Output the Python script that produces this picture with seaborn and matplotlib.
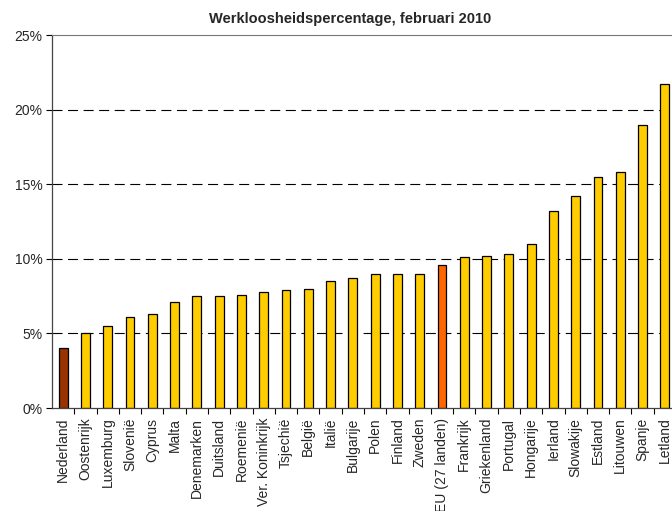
import numpy as np
import pandas as pd
import matplotlib
matplotlib.use("Agg")
import matplotlib.pyplot as plt
import seaborn as sns
from matplotlib.ticker import FixedLocator, PercentFormatter

# data (unemployment %, Feb 2010)
landen = ["Nederland", "Oostenrijk", "Luxemburg", "Slovenië", "Cyprus", "Malta",
          "Denemarken", "Duitsland", "Roemenië", "Ver. Koninkrijk", "Tsjechië",
          "België", "Italië", "Bulgarije", "Polen", "Finland", "Zweden",
          "EU (27 landen)", "Frankrijk", "Griekenland", "Portugal", "Hongarije",
          "Ierland", "Slowakije", "Estland", "Litouwen", "Spanje", "Letland"]
werkloosheid = [4.0, 5.0, 5.5, 6.1, 6.3, 7.1, 7.5, 7.5, 7.6, 7.8, 7.9, 8.0, 8.5,
                8.7, 9.0, 9.0, 9.0, 9.6, 10.1, 10.2, 10.3, 11.0, 13.2, 14.2,
                15.5, 15.8, 19.0, 21.7]
y_ticks = [0, 5, 10, 15, 20, 25]

geel = "#FFCC00"
kleuren = [geel] * len(landen)
kleuren[landen.index("Nederland")] = "#993300"
kleuren[landen.index("EU (27 landen)")] = "#FF6600"

df = pd.DataFrame({"land": landen, "pct": werkloosheid})

sns.set_style("white")
plt.rcParams["font.family"] = ["Liberation Sans", "DejaVu Sans"]

fig = plt.figure(figsize=(6.72, 5.11), dpi=100)
ax = fig.add_axes([52 / 672, 1 - 408 / 511, 624 / 672, 373 / 511])

sns.barplot(data=df, x="land", y="pct", hue="land", palette=kleuren,
            legend=False, width=0.4, edgecolor="black", linewidth=0.9,
            saturation=1, ax=ax)

ax.set_ylim(0, 25)
ax.set_xlim(-0.5, len(landen) - 0.5)
ax.yaxis.set_major_locator(FixedLocator(y_ticks))
ax.yaxis.set_major_formatter(PercentFormatter(decimals=0))
for v in y_ticks[1:-1]:
    ax.axhline(v, color="black", linewidth=0.8, linestyle=(0, (9, 5)), zorder=0)

ax.set_xticks(range(len(landen)))
ax.set_xticklabels(landen, rotation=90, fontsize=10)
ax.set_xticks(np.arange(len(landen)) + 0.5, minor=True)
ax.tick_params(axis="x", which="major", length=0, pad=7)
ax.tick_params(axis="x", which="minor", length=4, width=0.8, direction="out",
               color="black", bottom=True)
ax.tick_params(axis="y", length=4, width=0.8, direction="out", color="black",
               left=True, labelsize=10, pad=3)

ax.set_xlabel("")
ax.set_ylabel("")
for side in ["left", "bottom"]:
    ax.spines[side].set_color("#444444")
    ax.spines[side].set_linewidth(0.9)
ax.spines["top"].set_color("#777777")
ax.spines["top"].set_linewidth(0.8)
ax.spines["right"].set_visible(False)

fig.text(0.521, 0.963, "Werkloosheidspercentage, februari 2010", ha="center",
         va="center", fontsize=10.5, fontweight="bold")

fig.savefig("out.png", dpi=100)
